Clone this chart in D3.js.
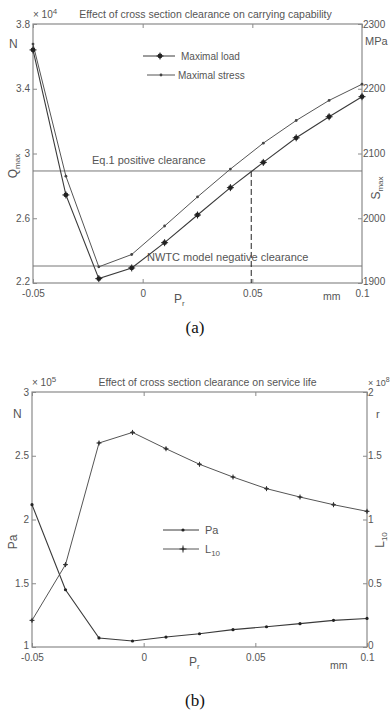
<!DOCTYPE html>
<html>
<head>
<meta charset="utf-8">
<script src="https://cdn.jsdelivr.net/npm/d3@7"></script>
<style>
  body { margin: 0; background: #fff; }
  text { font-family: "Liberation Sans", Arial, sans-serif; fill: #555; }
  .cap { font-family: "Liberation Serif", "Times New Roman", serif; fill: #111; }
</style>
</head>
<body>
<div id="chart"></div>
<script>
// clearance P_r in mm
const clearance = [-0.05, -0.035, -0.02, -0.005, 0.01, 0.025, 0.04, 0.055, 0.07, 0.085, 0.1];

// (a) carrying capability
const maxLoad = [3.64, 2.744, 2.227, 2.293, 2.449, 2.62, 2.789, 2.945, 3.097, 3.227, 3.351]; // x 10^4 N
const maxStress = [2269, 2065, 1925, 1944, 1988, 2033, 2076, 2116, 2151, 2182, 2207]; // MPa
const eq1Level = 2.892;
const nwtcLevel = 2.305;
const crossX = 0.0495;
const loadTicks = [2.2, 2.6, 3, 3.4, 3.8];
const stressTicks = [1900, 2000, 2100, 2200, 2300];

// (b) service life
const pa = [2.116, 1.449, 1.071, 1.047, 1.078, 1.104, 1.136, 1.159, 1.183, 1.209, 1.224]; // x 10^5
const l10 = [0.209, 0.646, 1.6, 1.683, 1.555, 1.433, 1.333, 1.242, 1.176, 1.116, 1.064]; // x 10^8
const paTicks = [1, 1.5, 2, 2.5, 3];
const l10Ticks = [0, 0.5, 1, 1.5, 2];

const xTicks = [-0.05, 0, 0.05, 0.1];
const xFmt = d => d === 0 ? '0' : String(d);

const W = 390, H = 717;
const svg = d3.select('#chart').append('svg').attr('width', W).attr('height', H);

const lineCol = '#3a3a3a';
const axisCol = '#8a8a8a';

function panel(o) {
  const x = d3.scaleLinear().domain([-0.05, 0.1]).range([o.left, o.right]);
  const yL = d3.scaleLinear().domain(o.yLDomain).range([o.bottom, o.top]);
  const yR = d3.scaleLinear().domain(o.yRDomain).range([o.bottom, o.top]);
  const g = svg.append('g');

  const styleAxis = sel => {
    sel.select('.domain').remove();
    sel.selectAll('line').attr('stroke', axisCol);
    sel.selectAll('text').attr('font-size', '10px').attr('fill', '#555');
  };
  // lift the lowest y label a bit so it clears the x labels
  const liftFirst = sel => sel.selectAll('.tick text').filter((d, i) => i === 0).attr('dy', '0.1em');

  g.append('g').attr('transform', `translate(0,${o.bottom})`)
    .call(d3.axisBottom(x).tickValues(xTicks).tickFormat(xFmt).tickSizeInner(-4).tickPadding(7))
    .call(styleAxis);
  g.append('g').attr('transform', `translate(0,${o.top})`)
    .call(d3.axisTop(x).tickValues(xTicks).tickFormat('').tickSizeInner(-4))
    .call(styleAxis);
  g.append('g').attr('transform', `translate(${o.left},0)`)
    .call(d3.axisLeft(yL).tickValues(o.yLTicks).tickFormat(d3.format('')).tickSizeInner(-4).tickPadding(3))
    .call(styleAxis).call(liftFirst);
  g.append('g').attr('transform', `translate(${o.right},0)`)
    .call(d3.axisRight(yR).tickValues(o.yRTicks).tickFormat(d3.format('')).tickSizeInner(-4).tickPadding(1))
    .call(styleAxis).call(liftFirst);

  g.append('rect')
    .attr('x', o.left).attr('y', o.top)
    .attr('width', o.right - o.left).attr('height', o.bottom - o.top)
    .attr('fill', 'none').attr('stroke', axisCol).attr('stroke-width', 1.2);

  g.append('text').attr('x', (o.left + o.right) / 2 + 8).attr('y', o.top - 6)
    .attr('text-anchor', 'middle').attr('font-size', '10.5px').text(o.title);

  return { x, yL, yR, g };
}

function sup(g, xPos, yPos, base, exp, size) {
  const t = g.append('text').attr('x', xPos).attr('y', yPos).attr('font-size', size + 'px');
  t.append('tspan').text(base);
  t.append('tspan').attr('dy', -4).attr('font-size', (size - 2) + 'px').text(exp);
  return t;
}

function vlabel(g, xPos, yPos, main, sub) {
  const t = g.append('text').attr('transform', `translate(${xPos},${yPos}) rotate(-90)`)
    .attr('text-anchor', 'middle').attr('font-size', '12px');
  t.append('tspan').text(main);
  t.append('tspan').attr('dy', 3).attr('font-size', '8px').text(sub);
  return t;
}

function hlabel(g, xPos, yPos, main, sub) {
  const t = g.append('text').attr('x', xPos).attr('y', yPos).attr('font-size', '12px');
  t.append('tspan').text(main);
  t.append('tspan').attr('dy', 3).attr('font-size', '8px').text(sub);
  return t;
}

function drawSeries(g, x, y, vals, col, width) {
  g.append('path')
    .datum(vals)
    .attr('fill', 'none').attr('stroke', col).attr('stroke-width', width)
    .attr('d', d3.line().x((d, i) => x(clearance[i])).y(d => y(d)));
}

function dots(g, x, y, vals, r, col) {
  g.selectAll(null).data(vals).join('circle')
    .attr('cx', (d, i) => x(clearance[i])).attr('cy', d => y(d))
    .attr('r', r).attr('fill', col);
}

function crosses(g, x, y, vals, s, col) {
  g.selectAll(null).data(vals).join('path')
    .attr('d', (d, i) => {
      const cx = x(clearance[i]), cy = y(d);
      return `M${cx - s},${cy}H${cx + s}M${cx},${cy - s}V${cy + s}`;
    })
    .attr('stroke', col).attr('stroke-width', 1);
}

// ---------- panel (a)
const A = panel({
  left: 33, right: 362, top: 24, bottom: 283,
  yLDomain: [2.2, 3.8], yRDomain: [1900, 2300],
  yLTicks: loadTicks, yRTicks: stressTicks,
  title: 'Effect of cross section clearance on carrying capability'
});

// reference lines
A.g.append('line').attr('x1', A.x(-0.05)).attr('x2', A.x(0.1))
  .attr('y1', A.yL(eq1Level)).attr('y2', A.yL(eq1Level)).attr('stroke', '#777').attr('stroke-width', 1);
A.g.append('line').attr('x1', A.x(-0.05)).attr('x2', A.x(0.1))
  .attr('y1', A.yL(nwtcLevel)).attr('y2', A.yL(nwtcLevel)).attr('stroke', '#777').attr('stroke-width', 1);
A.g.append('line').attr('x1', A.x(crossX)).attr('x2', A.x(crossX))
  .attr('y1', A.yL(eq1Level)).attr('y2', A.yL(2.2))
  .attr('stroke', '#222').attr('stroke-width', 1).attr('stroke-dasharray', '6,3');
A.g.append('text').attr('x', 92).attr('y', A.yL(eq1Level) - 7).attr('font-size', '11px')
  .text('Eq.1 positive clearance');
A.g.append('text').attr('x', 147).attr('y', A.yL(nwtcLevel) - 5).attr('font-size', '11px')
  .text('NWTC model negative clearance');

drawSeries(A.g, A.x, A.yR, maxStress, '#555', 1);
dots(A.g, A.x, A.yR, maxStress, 1.4, '#444');
drawSeries(A.g, A.x, A.yL, maxLoad, lineCol, 1.1);
dots(A.g, A.x, A.yL, maxLoad, 2.4, '#222');
crosses(A.g, A.x, A.yL, maxLoad, 3.5, '#222');

// legend (a)
A.g.append('line').attr('x1', 143).attr('x2', 175).attr('y1', 56).attr('y2', 56).attr('stroke', lineCol);
A.g.append('circle').attr('cx', 160).attr('cy', 56).attr('r', 2.4).attr('fill', '#222');
A.g.append('path').attr('d', 'M156.5,56H163.5M160,52.5V59.5').attr('stroke', '#222');
A.g.append('text').attr('x', 181).attr('y', 59.5).attr('font-size', '10px').text('Maximal load');
A.g.append('line').attr('x1', 147).attr('x2', 175).attr('y1', 75).attr('y2', 75).attr('stroke', '#555');
A.g.append('circle').attr('cx', 161).attr('cy', 75).attr('r', 1.4).attr('fill', '#444');
A.g.append('text').attr('x', 178).attr('y', 78.5).attr('font-size', '10px').text('Maximal stress');

sup(A.g, 33, 18, '× 10', '4', 10);
A.g.append('text').attr('x', 9).attr('y', 48).attr('font-size', '12px').text('N');
A.g.append('text').attr('x', 365).attr('y', 45).attr('font-size', '11px').text('MPa');
vlabel(A.g, 17, 166, 'Q', 'max');
vlabel(A.g, 380, 188, 'S', 'max');
hlabel(A.g, 174, 303, 'P', 'r');
A.g.append('text').attr('x', 323).attr('y', 300).attr('font-size', '10.5px').text('mm');
svg.append('text').attr('class', 'cap').attr('x', 195).attr('y', 333)
  .attr('text-anchor', 'middle').attr('font-size', '17px').text('(a)');

// ---------- panel (b)
const B = panel({
  left: 32, right: 367, top: 392, bottom: 647,
  yLDomain: [1, 3], yRDomain: [0, 2],
  yLTicks: paTicks, yRTicks: l10Ticks,
  title: 'Effect of cross section clearance on service life'
});

drawSeries(B.g, B.x, B.yR, l10, '#555', 1);
crosses(B.g, B.x, B.yR, l10, 2.5, '#333');
dots(B.g, B.x, B.yR, l10, 1.4, '#333');
drawSeries(B.g, B.x, B.yL, pa, lineCol, 1.1);
dots(B.g, B.x, B.yL, pa, 1.6, '#222');

// legend (b)
B.g.append('line').attr('x1', 163).attr('x2', 199).attr('y1', 530).attr('y2', 530).attr('stroke', lineCol);
B.g.append('circle').attr('cx', 183).attr('cy', 530).attr('r', 1.6).attr('fill', '#222');
B.g.append('text').attr('x', 205).attr('y', 534).attr('font-size', '11px').text('Pa');
B.g.append('line').attr('x1', 163).attr('x2', 199).attr('y1', 549).attr('y2', 549).attr('stroke', '#555');
B.g.append('path').attr('d', 'M179.5,549H186.5M183,545.5V552.5').attr('stroke', '#333');
B.g.append('circle').attr('cx', 183).attr('cy', 549).attr('r', 1.4).attr('fill', '#333');
hlabel(B.g, 205, 553, 'L', '10').attr('font-size', '11px');

sup(B.g, 32, 386, '× 10', '5', 10);
sup(B.g, 368, 386, '× 10', '8', 9);
B.g.append('text').attr('x', 13).attr('y', 418).attr('font-size', '12px').text('N');
B.g.append('text').attr('x', 376).attr('y', 418).attr('font-size', '11px').text('r');
B.g.append('text').attr('transform', 'translate(17,542) rotate(-90)')
  .attr('text-anchor', 'middle').attr('font-size', '12px').text('Pa');
vlabel(B.g, 384, 540, 'L', '10');
hlabel(B.g, 189, 666, 'P', 'r');
B.g.append('text').attr('x', 330).attr('y', 669).attr('font-size', '10.5px').text('mm');
svg.append('text').attr('class', 'cap').attr('x', 195).attr('y', 706)
  .attr('text-anchor', 'middle').attr('font-size', '17px').text('(b)');
</script>
</body>
</html>
